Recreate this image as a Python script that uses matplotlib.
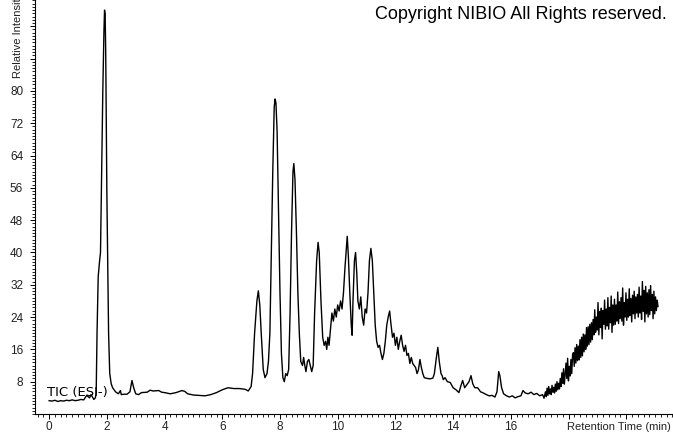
import matplotlib
matplotlib.use("Agg")
import matplotlib.pyplot as plt
from matplotlib.ticker import MultipleLocator
import numpy as np

# TIC (ESI-) trace, retention time (min) vs relative intensity
rt = [0.0, 0.1, 0.2, 0.3, 0.4, 0.5, 0.6, 0.7, 0.8, 0.9, 1.0, 1.1, 1.2, 1.3, 1.4,
      1.45, 1.5, 1.55, 1.6, 1.63, 1.66, 1.7, 1.75, 1.78, 1.82, 1.86, 1.9, 1.92,
      1.94, 1.96, 1.98, 2.0, 2.03, 2.06, 2.1, 2.15, 2.2, 2.3, 2.4, 2.47, 2.5,
      2.6, 2.7, 2.8, 2.87, 2.93, 3.0, 3.1, 3.2, 3.4, 3.5, 3.6, 3.8, 3.9, 4.0,
      4.2, 4.4, 4.6, 4.7, 4.8, 5.0, 5.2, 5.4, 5.6, 5.8, 6.0, 6.2, 6.4, 6.6,
      6.8, 6.9, 7.0, 7.05, 7.12, 7.2, 7.25, 7.3, 7.35, 7.42, 7.48, 7.55, 7.6,
      7.65, 7.7, 7.75, 7.8, 7.83, 7.86, 7.9, 7.95, 8.0, 8.05, 8.1, 8.15, 8.2,
      8.25, 8.3, 8.35, 8.4, 8.45, 8.48, 8.52, 8.57, 8.62, 8.67, 8.72, 8.78,
      8.82, 8.86, 8.9, 8.95, 9.0, 9.05, 9.1, 9.15, 9.2, 9.27, 9.32, 9.36, 9.42,
      9.48, 9.53, 9.58, 9.62, 9.66, 9.7, 9.75, 9.8, 9.85, 9.9, 9.95, 10.0,
      10.05, 10.1, 10.15, 10.2, 10.25, 10.3, 10.33, 10.37, 10.42, 10.47, 10.5,
      10.53, 10.58, 10.62, 10.66, 10.7, 10.75, 10.8, 10.85, 10.9, 10.95, 11.0,
      11.05, 11.1, 11.15, 11.2, 11.25, 11.3, 11.35, 11.4, 11.45, 11.5, 11.55,
      11.6, 11.65, 11.7, 11.75, 11.8, 11.85, 11.9, 11.95, 12.0, 12.05, 12.1,
      12.15, 12.2, 12.25, 12.3, 12.35, 12.4, 12.45, 12.5, 12.55, 12.6, 12.7,
      12.75, 12.8, 12.85, 12.9, 12.95, 13.0, 13.1, 13.2, 13.3, 13.35, 13.42,
      13.47, 13.52, 13.58, 13.62, 13.66, 13.72, 13.8, 13.9, 14.0, 14.1, 14.2,
      14.27, 14.33, 14.4, 14.45, 14.55, 14.62, 14.68, 14.75, 14.85, 14.95,
      15.05, 15.15, 15.25, 15.35, 15.45, 15.52, 15.58, 15.62, 15.68, 15.75,
      15.85, 15.95, 16.05, 16.15, 16.25, 16.35, 16.42, 16.5, 16.6, 16.7, 16.8,
      16.9, 17.0, 17.1, 17.15]
intensity = [3.3, 3.2, 3.4, 3.1, 3.3, 3.2, 3.4, 3.3, 3.5, 3.3, 3.4, 3.6, 3.5,
             4.6, 4.0, 4.8, 4.2, 3.6, 4.0, 5.0, 20, 34, 38, 40, 60, 80, 95, 100,
             99, 90, 73, 55, 38, 20, 10, 7.5, 6.5, 5.5, 5.0, 5.8, 4.8, 4.9, 4.9,
             5.5, 8.3, 6.5, 5.0, 4.8, 5.3, 5.4, 5.9, 5.7, 5.8, 5.4, 5.3, 5.0,
             5.3, 5.8, 5.6, 5.0, 4.7, 4.6, 4.5, 4.8, 5.3, 6.0, 6.5, 6.3, 6.3,
             6.1, 5.7, 6.8, 10, 20, 28, 30.5, 27, 20, 11, 9, 10, 13, 20, 40, 60,
             76, 78, 77, 70, 50, 30, 15, 9, 8, 10, 9.5, 11, 25, 45, 60, 62, 58,
             45, 30, 20, 13, 12, 14, 12, 10.5, 13, 13.5, 12, 10.5, 12, 25, 38,
             42.5, 40, 28, 19, 17, 18, 16, 19, 17, 21, 25, 23, 26, 24, 27, 25.5,
             28, 26, 30, 36, 41, 44, 39, 30, 22, 19.5, 28, 38, 40, 35, 28, 26, 29,
             24, 22, 26, 25, 30, 38, 41, 38, 30, 22, 18, 16.5, 17, 15, 13.5, 15,
             18, 22, 24, 25.5, 22, 19, 20, 17, 19, 16, 18, 19.5, 17, 15.5, 17,
             14.5, 15, 12.5, 14, 12.5, 11.5, 10, 11, 13.5, 11.5, 10, 9, 8.8, 8.7,
             8.9, 10, 14, 16.5, 13, 10, 9.5, 8.5, 9, 8, 7.8, 6.5, 6, 5.3, 7, 8.3,
             6.5, 7, 8, 9.5, 7.5, 6.5, 6.5, 5.5, 5.2, 4.8, 4.5, 4.6, 4.2, 5.5,
             10.5, 9.5, 6.5, 5.0, 4.5, 4.2, 4.5, 4.0, 4.3, 4.5, 5.8, 5.2, 5.0,
             5.4, 4.8, 5.1, 4.5, 4.8, 3.9]

# noisy tail of the run, 17.2 - 21.1 min
tail_intensity = [5.5, 4.3, 6.4, 4.6, 6.8, 5.0, 6.2, 4.8, 7.1, 5.4, 6.6, 5.2,
                  7.4, 5.6, 8.0, 6.0, 7.6, 6.2, 8.8, 6.8,
                  10.2, 7.6, 11.2, 7.4, 9.8, 12.6, 8.8, 13.8, 8.2, 11.8, 9.4,
                  13.5, 10.0, 14.6,
                  15.2, 11.8, 16.4, 12.6, 17.2, 13.2, 16.8, 13.4, 18.4, 14.0,
                  19.0, 14.4, 19.8, 15.4, 19.6, 16.0, 21.4, 16.8, 21.6, 17.2,
                  22.2, 17.8,
                  22.6, 18.4, 23.4, 19.6, 25.8, 20.2, 24.0, 20.8, 27.6, 19.6,
                  25.4, 21.4, 26.2, 18.6, 25.6, 22.2, 28.2, 21.0, 26.0, 21.8,
                  28.8, 21.0, 26.4, 22.6, 29.2, 20.2, 27.0, 22.0,
                  28.4, 22.2, 27.0, 23.0, 30.2, 22.4, 27.8, 23.6, 28.8, 23.0,
                  31.2, 22.0, 27.6, 24.0, 30.0, 23.2, 28.4, 24.0, 31.0, 24.4,
                  28.6, 22.8, 29.4, 24.8, 30.4, 23.6, 29.0, 25.0,
                  29.6, 24.0, 31.4, 25.0, 29.2, 23.4, 32.8, 25.4, 30.6, 22.8,
                  31.6, 24.8, 30.0, 24.0, 30.8, 24.6, 31.8, 25.6, 29.6, 23.6,
                  30.4, 24.8, 29.0, 25.6, 28.2, 26.6]
tail_rt = np.linspace(17.2, 21.1, len(tail_intensity))

x_ticks = [0, 2, 4, 6, 8, 10, 12, 14, 16]
y_ticks = [8, 16, 24, 32, 40, 48, 56, 64, 72, 80]

x = np.concatenate([rt, tail_rt])
y = np.concatenate([intensity, tail_intensity])

fig = plt.figure(figsize=(6.73, 4.33), dpi=100)
ax = fig.add_axes([35 / 673, 19 / 433, 1 - 35 / 673, 1 - 19 / 433])

ax.plot(x, y, color="black", lw=1.0)

ax.set_xlim(-0.49, 21.62)
ax.set_ylim(0.0, 102.5)

for s in ["top", "right"]:
    ax.spines[s].set_visible(False)
ax.spines["left"].set_linewidth(0.8)
ax.spines["bottom"].set_linewidth(0.8)

ax.xaxis.set_minor_locator(MultipleLocator(0.2))
ax.yaxis.set_minor_locator(MultipleLocator(0.8))

tick_font = {"family": "Liberation Sans", "size": 8.5}
ax.set_xticks(np.arange(0, 22, 2))
ax.set_xticklabels([str(t) if t in x_ticks else "" for t in range(0, 22, 2)],
                   fontdict=tick_font, color="#222222")
ax.set_yticks(np.arange(8, 104, 8))
ax.set_yticklabels([str(t) if t in y_ticks else "" for t in range(8, 104, 8)],
                   fontdict=tick_font, color="#222222")
ax.tick_params(which="major", length=3.5, width=0.7)
ax.tick_params(axis="x", which="major", pad=1.5)
ax.tick_params(axis="y", which="major", pad=5)
ax.tick_params(which="minor", length=2, width=0.6)

fig.text(1 - 2 / 673, 1 - 427 / 433, "Retention Time (min)", ha="right",
         va="center", fontsize=8, family="Liberation Sans", color="#222222")
fig.text(18 / 673, 1 - 78 / 433, "Relative Intensity", rotation=90,
         ha="center", va="bottom", fontsize=8, family="Liberation Sans",
         color="#222222")
fig.text(1 - 6 / 673, 1 - 6 / 433, "Copyright NIBIO All Rights reserved.",
         ha="right", va="top", fontsize=13, family="Liberation Sans")
ax.text(-0.07, 5.2, "TIC (ESI-)", ha="left", va="center", fontsize=9.5,
        family="DejaVu Sans")

fig.savefig("out.png", dpi=100)
